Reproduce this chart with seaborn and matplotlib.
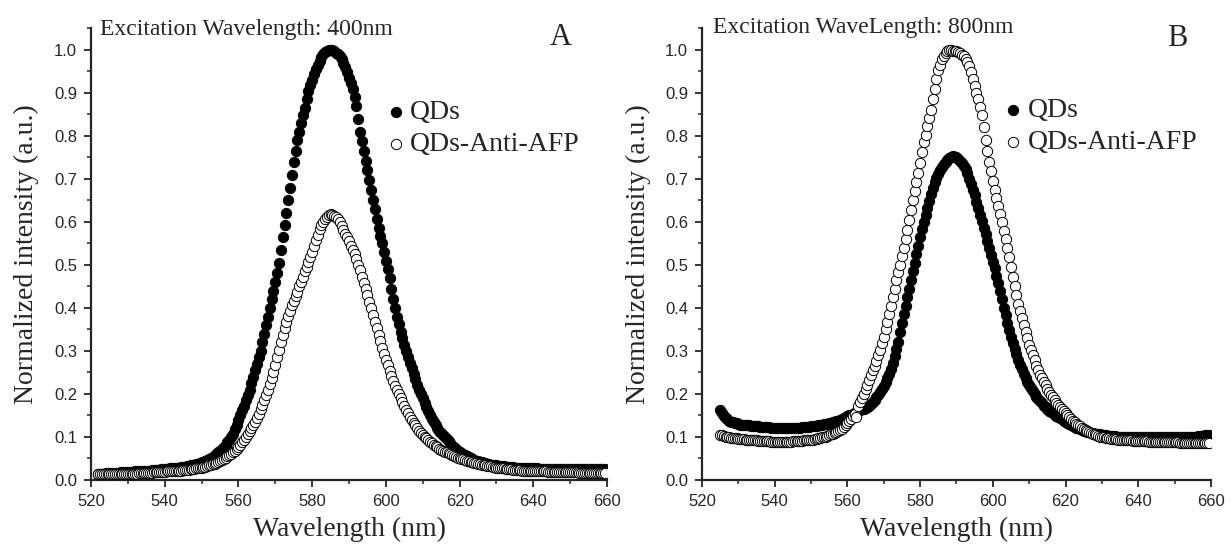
import numpy as np
import pandas as pd
import seaborn as sns
import matplotlib.pyplot as plt
from matplotlib.ticker import MultipleLocator, FormatStrFormatter

# wavelength sampling (0.5 nm steps, as recorded by the spectrometer)
wl_a = np.arange(522.0, 660.0, 0.5)
wl_b = np.arange(525.0, 660.0, 0.5)

# panel A, excitation 400 nm
qds_a = [
    0.015, 0.015, 0.015, 0.015, 0.016, 0.016, 0.016, 0.016, 0.017, 0.017,
    0.017, 0.017, 0.018, 0.018, 0.018, 0.018, 0.019, 0.019, 0.019, 0.019,
    0.020, 0.020, 0.020, 0.021, 0.021, 0.021, 0.022, 0.022, 0.022, 0.023,
    0.023, 0.023, 0.024, 0.024, 0.025, 0.025, 0.026, 0.026, 0.026, 0.027,
    0.027, 0.027, 0.028, 0.028, 0.029, 0.030, 0.031, 0.031, 0.032, 0.033,
    0.035, 0.035, 0.036, 0.037, 0.038, 0.039, 0.041, 0.042, 0.044, 0.046,
    0.048, 0.050, 0.053, 0.056, 0.060, 0.064, 0.068, 0.072, 0.077, 0.082,
    0.088, 0.094, 0.100, 0.108, 0.118, 0.128, 0.140, 0.151, 0.162, 0.173,
    0.185, 0.197, 0.210, 0.225, 0.240, 0.255, 0.270, 0.285, 0.300, 0.320,
    0.340, 0.360, 0.380, 0.400, 0.420, 0.440, 0.460, 0.482, 0.505, 0.535,
    0.565, 0.592, 0.620, 0.650, 0.680, 0.710, 0.740, 0.765, 0.790, 0.810,
    0.830, 0.848, 0.865, 0.885, 0.905, 0.918, 0.930, 0.943, 0.955, 0.965,
    0.975, 0.983, 0.990, 0.995, 0.998, 1.000, 1.000, 0.999, 0.997, 0.994,
    0.990, 0.985, 0.980, 0.970, 0.960, 0.948, 0.935, 0.923, 0.910, 0.890,
    0.870, 0.840, 0.810, 0.788, 0.765, 0.742, 0.720, 0.698, 0.675, 0.652,
    0.630, 0.608, 0.585, 0.568, 0.550, 0.530, 0.510, 0.490, 0.470, 0.445,
    0.420, 0.400, 0.380, 0.362, 0.345, 0.330, 0.315, 0.300, 0.285, 0.272,
    0.260, 0.247, 0.235, 0.222, 0.210, 0.200, 0.190, 0.180, 0.170, 0.160,
    0.150, 0.142, 0.135, 0.127, 0.120, 0.115, 0.110, 0.105, 0.100, 0.095,
    0.090, 0.085, 0.080, 0.076, 0.072, 0.068, 0.065, 0.062, 0.060, 0.057,
    0.055, 0.053, 0.051, 0.049, 0.047, 0.045, 0.044, 0.042, 0.041, 0.040,
    0.039, 0.038, 0.037, 0.036, 0.035, 0.035, 0.034, 0.033, 0.033, 0.032,
    0.032, 0.031, 0.031, 0.030, 0.030, 0.030, 0.029, 0.029, 0.029, 0.028,
    0.028, 0.028, 0.028, 0.027, 0.027, 0.027, 0.027, 0.027, 0.027, 0.026,
    0.026, 0.026, 0.026, 0.026, 0.026, 0.026, 0.026, 0.026, 0.026, 0.026,
    0.026, 0.026, 0.026, 0.026, 0.026, 0.026, 0.025, 0.026, 0.026, 0.025,
    0.025, 0.025, 0.025, 0.025, 0.025, 0.025, 0.025, 0.025, 0.025, 0.025,
    0.025, 0.025, 0.025, 0.025, 0.025, 0.025,
]
anti_a = [
    0.013, 0.013, 0.013, 0.013, 0.013, 0.013, 0.013, 0.014, 0.014, 0.014,
    0.014, 0.014, 0.014, 0.014, 0.014, 0.014, 0.015, 0.015, 0.015, 0.015,
    0.015, 0.015, 0.016, 0.016, 0.016, 0.016, 0.017, 0.017, 0.017, 0.017,
    0.018, 0.018, 0.018, 0.018, 0.019, 0.019, 0.019, 0.020, 0.020, 0.020,
    0.020, 0.021, 0.021, 0.021, 0.022, 0.022, 0.023, 0.023, 0.024, 0.024,
    0.025, 0.026, 0.026, 0.027, 0.028, 0.028, 0.029, 0.030, 0.031, 0.032,
    0.034, 0.035, 0.037, 0.038, 0.040, 0.042, 0.044, 0.046, 0.049, 0.052,
    0.055, 0.058, 0.061, 0.064, 0.068, 0.072, 0.077, 0.082, 0.088, 0.094,
    0.100, 0.106, 0.113, 0.120, 0.127, 0.136, 0.145, 0.154, 0.164, 0.175,
    0.186, 0.198, 0.210, 0.223, 0.237, 0.252, 0.268, 0.285, 0.302, 0.320,
    0.338, 0.353, 0.368, 0.381, 0.394, 0.406, 0.417, 0.428, 0.438, 0.450,
    0.461, 0.473, 0.485, 0.496, 0.507, 0.518, 0.530, 0.543, 0.557, 0.570,
    0.583, 0.592, 0.600, 0.606, 0.612, 0.616, 0.618, 0.617, 0.615, 0.611,
    0.606, 0.599, 0.591, 0.582, 0.573, 0.564, 0.555, 0.545, 0.535, 0.525,
    0.514, 0.501, 0.488, 0.473, 0.458, 0.444, 0.430, 0.415, 0.400, 0.384,
    0.368, 0.353, 0.338, 0.323, 0.308, 0.294, 0.280, 0.267, 0.254, 0.242,
    0.230, 0.219, 0.209, 0.199, 0.190, 0.181, 0.172, 0.163, 0.155, 0.147,
    0.140, 0.133, 0.127, 0.121, 0.115, 0.110, 0.105, 0.101, 0.097, 0.093,
    0.089, 0.085, 0.082, 0.079, 0.076, 0.073, 0.070, 0.068, 0.066, 0.064,
    0.062, 0.060, 0.058, 0.056, 0.054, 0.052, 0.050, 0.049, 0.048, 0.046,
    0.045, 0.044, 0.043, 0.041, 0.040, 0.039, 0.038, 0.037, 0.036, 0.035,
    0.034, 0.033, 0.032, 0.032, 0.031, 0.030, 0.029, 0.029, 0.028, 0.028,
    0.027, 0.026, 0.026, 0.025, 0.025, 0.024, 0.024, 0.023, 0.023, 0.023,
    0.022, 0.022, 0.022, 0.021, 0.021, 0.021, 0.021, 0.021, 0.020, 0.020,
    0.020, 0.020, 0.020, 0.020, 0.019, 0.019, 0.019, 0.019, 0.019, 0.019,
    0.019, 0.019, 0.018, 0.018, 0.018, 0.018, 0.018, 0.018, 0.018, 0.018,
    0.018, 0.017, 0.017, 0.017, 0.017, 0.017, 0.017, 0.017, 0.017, 0.017,
    0.016, 0.016, 0.016, 0.016, 0.016, 0.016,
]

# panel B, excitation 800 nm
qds_b = [
    0.163, 0.155, 0.148, 0.144, 0.141, 0.138, 0.136, 0.134, 0.133, 0.132,
    0.130, 0.129, 0.129, 0.128, 0.128, 0.127, 0.127, 0.126, 0.126, 0.125,
    0.125, 0.125, 0.124, 0.124, 0.123, 0.123, 0.123, 0.123, 0.122, 0.122,
    0.122, 0.122, 0.121, 0.121, 0.121, 0.121, 0.121, 0.121, 0.121, 0.121,
    0.122, 0.122, 0.122, 0.122, 0.122, 0.123, 0.123, 0.123, 0.124, 0.124,
    0.125, 0.125, 0.126, 0.126, 0.127, 0.128, 0.129, 0.130, 0.130, 0.131,
    0.132, 0.133, 0.134, 0.136, 0.137, 0.138, 0.140, 0.142, 0.144, 0.146,
    0.148, 0.150, 0.152, 0.154, 0.156, 0.158, 0.160, 0.162, 0.164, 0.166,
    0.168, 0.170, 0.173, 0.177, 0.182, 0.187, 0.192, 0.198, 0.204, 0.211,
    0.218, 0.227, 0.236, 0.246, 0.257, 0.272, 0.288, 0.305, 0.322, 0.343,
    0.365, 0.385, 0.405, 0.425, 0.445, 0.465, 0.485, 0.505, 0.525, 0.545,
    0.565, 0.583, 0.600, 0.616, 0.632, 0.648, 0.665, 0.679, 0.692, 0.702,
    0.712, 0.720, 0.728, 0.734, 0.740, 0.745, 0.749, 0.751, 0.753, 0.752,
    0.750, 0.746, 0.742, 0.736, 0.730, 0.722, 0.714, 0.701, 0.688, 0.675,
    0.662, 0.647, 0.632, 0.617, 0.602, 0.587, 0.572, 0.556, 0.540, 0.524,
    0.508, 0.492, 0.475, 0.458, 0.440, 0.420, 0.400, 0.383, 0.365, 0.348,
    0.332, 0.318, 0.305, 0.292, 0.279, 0.268, 0.257, 0.247, 0.238, 0.229,
    0.221, 0.213, 0.206, 0.200, 0.194, 0.188, 0.183, 0.178, 0.173, 0.169,
    0.165, 0.161, 0.158, 0.155, 0.152, 0.149, 0.146, 0.143, 0.141, 0.138,
    0.136, 0.133, 0.131, 0.128, 0.126, 0.124, 0.122, 0.120, 0.118, 0.116,
    0.115, 0.113, 0.112, 0.111, 0.110, 0.109, 0.108, 0.107, 0.106, 0.106,
    0.105, 0.104, 0.104, 0.103, 0.103, 0.102, 0.102, 0.102, 0.101, 0.101,
    0.101, 0.101, 0.100, 0.100, 0.100, 0.100, 0.100, 0.100, 0.100, 0.100,
    0.100, 0.100, 0.099, 0.099, 0.099, 0.099, 0.099, 0.099, 0.099, 0.099,
    0.099, 0.099, 0.099, 0.099, 0.099, 0.099, 0.099, 0.099, 0.099, 0.099,
    0.099, 0.099, 0.099, 0.099, 0.099, 0.099, 0.100, 0.100, 0.100, 0.100,
    0.100, 0.101, 0.101, 0.102, 0.102, 0.103, 0.103, 0.104, 0.104, 0.105,
]
anti_b = [
    0.105, 0.104, 0.102, 0.101, 0.100, 0.099, 0.098, 0.098, 0.097, 0.097,
    0.096, 0.096, 0.095, 0.095, 0.094, 0.094, 0.093, 0.093, 0.092, 0.092,
    0.092, 0.091, 0.091, 0.091, 0.090, 0.090, 0.090, 0.090, 0.089, 0.089,
    0.089, 0.089, 0.089, 0.089, 0.089, 0.089, 0.089, 0.089, 0.089, 0.089,
    0.090, 0.090, 0.090, 0.091, 0.091, 0.091, 0.092, 0.092, 0.093, 0.093,
    0.093, 0.094, 0.095, 0.096, 0.097, 0.098, 0.099, 0.100, 0.101, 0.103,
    0.104, 0.106, 0.107, 0.109, 0.111, 0.113, 0.116, 0.119, 0.123, 0.127,
    0.132, 0.137, 0.142, 0.148, 0.153, 0.147, 0.172, 0.181, 0.190, 0.201,
    0.212, 0.222, 0.233, 0.244, 0.255, 0.266, 0.277, 0.290, 0.303, 0.318,
    0.333, 0.350, 0.368, 0.386, 0.405, 0.425, 0.445, 0.464, 0.483, 0.501,
    0.520, 0.540, 0.560, 0.582, 0.605, 0.627, 0.650, 0.672, 0.693, 0.715,
    0.738, 0.762, 0.785, 0.803, 0.822, 0.841, 0.860, 0.885, 0.910, 0.932,
    0.953, 0.966, 0.978, 0.986, 0.993, 0.997, 1.000, 0.999, 0.997, 0.997,
    0.998, 0.996, 0.992, 0.989, 0.985, 0.979, 0.972, 0.962, 0.948, 0.932,
    0.915, 0.900, 0.885, 0.867, 0.848, 0.820, 0.790, 0.765, 0.740, 0.718,
    0.695, 0.675, 0.655, 0.637, 0.618, 0.599, 0.580, 0.560, 0.540, 0.518,
    0.496, 0.473, 0.450, 0.430, 0.410, 0.393, 0.377, 0.361, 0.345, 0.330,
    0.315, 0.302, 0.290, 0.278, 0.266, 0.255, 0.245, 0.236, 0.228, 0.220,
    0.212, 0.205, 0.198, 0.192, 0.186, 0.180, 0.175, 0.170, 0.165, 0.160,
    0.155, 0.150, 0.146, 0.142, 0.138, 0.134, 0.131, 0.128, 0.125, 0.122,
    0.119, 0.116, 0.114, 0.112, 0.110, 0.108, 0.106, 0.104, 0.103, 0.101,
    0.100, 0.099, 0.098, 0.098, 0.097, 0.096, 0.096, 0.095, 0.095, 0.094,
    0.094, 0.093, 0.093, 0.093, 0.092, 0.092, 0.092, 0.091, 0.091, 0.091,
    0.091, 0.090, 0.090, 0.090, 0.090, 0.090, 0.089, 0.089, 0.089, 0.089,
    0.089, 0.089, 0.089, 0.088, 0.088, 0.088, 0.088, 0.088, 0.088, 0.088,
    0.088, 0.088, 0.088, 0.087, 0.087, 0.087, 0.087, 0.087, 0.087, 0.087,
    0.087, 0.087, 0.086, 0.086, 0.086, 0.086, 0.086, 0.086, 0.086, 0.086,
]

labels = ["QDs", "QDs-Anti-AFP"]
excitation = ["Excitation Wavelength: 400nm", "Excitation WaveLength: 800nm"]
panel_tags = ["A", "B"]

sns.set_style("ticks")
plt.rcParams["font.family"] = ["Liberation Sans", "DejaVu Sans"]
serif = ["Liberation Serif", "DejaVu Serif"]

fig = plt.figure(figsize=(12.32, 5.48), dpi=100)
ax_a = fig.add_axes([0.0739, 0.1241, 0.4188, 0.8248])
ax_b = fig.add_axes([0.5698, 0.1241, 0.4131, 0.8248])

panels = [
    (ax_a, wl_a, qds_a, anti_a, (0.574, 0.778), (0.017, 0.985), (0.911, 0.980)),
    (ax_b, wl_b, qds_b, anti_b, (0.595, 0.782), (0.022, 0.989), (0.934, 0.977)),
]

for i, (ax, wl, y_qds, y_anti, leg_xy, exc_xy, tag_xy) in enumerate(panels):
    # filled QDs first, open circles drawn on top
    sns.scatterplot(x=wl, y=y_qds, ax=ax, color="black", edgecolor="black",
                    linewidth=0.7, s=55, marker="o", label=labels[0], zorder=3)
    sns.scatterplot(x=wl, y=y_anti, ax=ax, color="white", edgecolor="black",
                    linewidth=0.7, s=55, marker="o", label=labels[1], zorder=4)

    ax.set_xlim(520, 660)
    ax.set_ylim(0, 1.051)
    ax.xaxis.set_major_locator(MultipleLocator(20))
    ax.xaxis.set_minor_locator(MultipleLocator(10))
    ax.yaxis.set_major_locator(MultipleLocator(0.1))
    ax.yaxis.set_minor_locator(MultipleLocator(0.05))
    ax.yaxis.set_major_formatter(FormatStrFormatter("%.1f"))
    ax.tick_params(axis="both", which="major", direction="out", length=5,
                   width=1.3, labelsize=12, pad=5)
    ax.tick_params(axis="both", which="minor", direction="out", length=3,
                   width=1.1)
    for side in ["top", "right"]:
        ax.spines[side].set_visible(False)
    for side in ["left", "bottom"]:
        ax.spines[side].set_linewidth(1.6)

    ax.set_xlabel("Wavelength (nm)", fontsize=20, family=serif)
    ax.set_ylabel("Normalized intensity (a.u.)", fontsize=20, family=serif)
    ax.xaxis.set_label_coords(0.5, -0.082)
    ax.yaxis.set_label_coords(-0.100, 0.5)

    ax.text(exc_xy[0], exc_xy[1], excitation[i], transform=ax.transAxes,
            fontsize=17, family=serif, va="baseline", ha="left")
    ax.text(tag_xy[0], tag_xy[1], panel_tags[i], transform=ax.transAxes,
            fontsize=22, family=serif, va="center", ha="center")

    ax.legend(loc="center left", bbox_to_anchor=leg_xy, frameon=False,
              prop={"family": serif, "size": 20}, handlelength=0.6,
              handletextpad=0.22, labelspacing=0.25, borderpad=0,
              borderaxespad=0, scatterpoints=1)

fig.savefig("out.png", dpi=100)
